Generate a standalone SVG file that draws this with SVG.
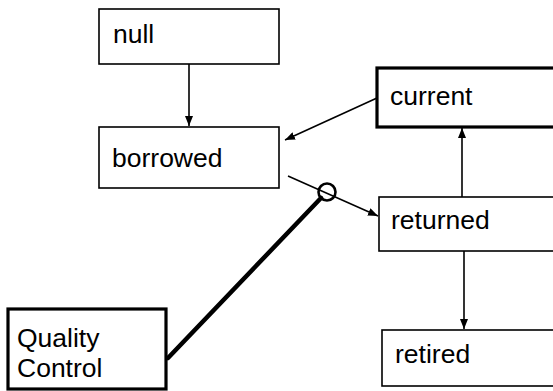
<svg xmlns="http://www.w3.org/2000/svg" width="553" height="391" viewBox="0 0 553 391">
  <style>
    .box { fill: #fff; stroke: #000; stroke-width: 1.6; }
    .box.bold { stroke-width: 3.2; }
    .label { font-family: "Liberation Sans", Arial, sans-serif; font-size: 26.5px; fill: #000; }
    .edge { fill: none; stroke: #000; stroke-width: 1.6; }
    .link { fill: none; stroke: #000; stroke-width: 4.5; stroke-linecap: round; }
  </style>
  <defs>
    <marker id="arrow" viewBox="0 0 10 8" refX="10" refY="4" markerWidth="10" markerHeight="8" markerUnits="userSpaceOnUse" orient="auto">
      <path d="M0,0 L10,4 L0,8 Z" fill="#000"/>
    </marker>
  </defs>
  <rect width="553" height="391" fill="#fff"/>

  <g id="node-null">
    <rect class="box" x="99" y="9" width="180" height="55"/>
    <text class="label" x="113" y="43">null</text>
  </g>
  <g id="node-borrowed">
    <rect class="box" x="99" y="127" width="180" height="61"/>
    <text class="label" x="112" y="167">borrowed</text>
  </g>
  <g id="node-current">
    <rect class="box bold" x="377" y="68" width="180" height="59"/>
    <text class="label" x="390" y="105">current</text>
  </g>
  <g id="node-returned">
    <rect class="box" x="379" y="197" width="180" height="54"/>
    <text class="label" x="391" y="229">returned</text>
  </g>
  <g id="node-retired">
    <rect class="box" x="382" y="330" width="180" height="56"/>
    <text class="label" x="395" y="363">retired</text>
  </g>
  <g id="node-quality-control">
    <rect class="box bold" x="8" y="309" width="158" height="80"/>
    <text class="label" x="17" y="347">Quality</text>
    <text class="label" x="17" y="377">Control</text>
  </g>

  <g id="connectors">
    <line class="edge" x1="189" y1="64" x2="189" y2="126" marker-end="url(#arrow)"/>
    <line class="edge" x1="377" y1="98" x2="285" y2="140" marker-end="url(#arrow)"/>
    <line class="edge" x1="288" y1="176" x2="378" y2="216" marker-end="url(#arrow)"/>
    <line class="edge" x1="462" y1="197" x2="462" y2="128" marker-end="url(#arrow)"/>
    <line class="edge" x1="464" y1="251" x2="464" y2="329" marker-end="url(#arrow)"/>
    <line class="link" x1="168" y1="358" x2="321" y2="198"/>
    <circle cx="327" cy="192" r="8.5" fill="none" stroke="#000" stroke-width="2.6"/>
  </g>
</svg>
